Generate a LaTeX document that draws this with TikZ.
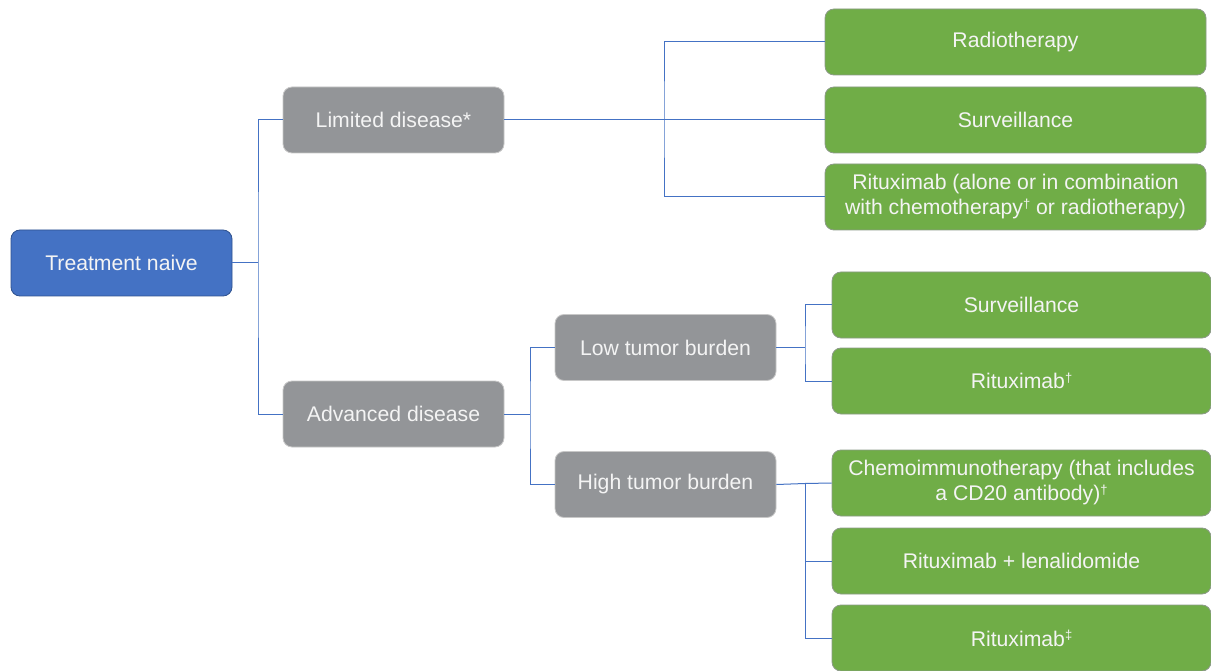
\documentclass[tikz,border=0pt]{standalone}
\usepackage{fontspec}
\setmainfont{Liberation Sans}
\definecolor{bluefill}{HTML}{4472C4}
\definecolor{blueedge}{HTML}{2F528F}
\definecolor{grayfill}{HTML}{939598}
\definecolor{grayedge}{HTML}{C8C8C8}
\definecolor{greenfill}{HTML}{70AD47}
\definecolor{greenedge}{HTML}{8C9A88}
\definecolor{linkcol}{HTML}{4472C4}
\definecolor{txt}{HTML}{F4F4F4}
\newcommand{\supmark}[1]{\raisebox{0.32em}{\fontsize{13}{13}\selectfont #1}}
\begin{document}
\begin{tikzpicture}[x=1pt,y=-1pt,
  box/.style={rounded corners=9pt, inner sep=0pt, align=center, text=txt,
    font=\fontsize{21.2}{25}\selectfont, line width=0.8pt},
  bluebox/.style={box, fill=bluefill, draw=blueedge, minimum width=221pt, minimum height=66pt},
  graybox/.style={box, fill=grayfill, draw=grayedge, minimum width=221pt, minimum height=66pt},
  greenbox/.style={box, fill=greenfill, draw=greenedge, minimum width=381pt, minimum height=66pt},
  greenboxb/.style={box, fill=greenfill, draw=greenedge, minimum width=379pt, minimum height=66pt},
  link/.style={draw=linkcol, line width=1pt}
]
\useasboundingbox (0,0) rectangle (1211,671);
\fill[white] (0,0) rectangle (1211,671);

\node[bluebox] (tn) at (121.5,263) {Treatment naive};
\node[graybox] (ld) at (393.5,120) {Limited disease*};
\node[graybox] (ad) at (393.5,414) {Advanced disease};
\node[graybox] (low) at (665.5,347.5) {Low tumor burden};
\node[graybox] (high) at (665.5,484.5) {High tumor burden};

\node[greenbox] (rt) at (1015.5,42) {Radiotherapy};
\node[greenbox] (sv1) at (1015.5,120) {Surveillance};
\node[greenbox] (rx1) at (1015.5,197) {Rituximab (alone or in combination\\with chemotherapy\supmark{†} or radiotherapy)};

\node[greenboxb] (sv2) at (1021.5,305) {Surveillance};
\node[greenboxb] (rx2) at (1021.5,381) {Rituximab\supmark{†}};
\node[greenboxb] (ci) at (1021.5,483) {Chemoimmunotherapy (that includes\\a CD20 antibody)\supmark{†}};
\node[greenboxb] (rl) at (1021.5,561) {Rituximab + lenalidomide};
\node[greenboxb] (rx3) at (1021.5,638) {Rituximab\supmark{‡}};

% connectors
\coordinate (j1) at (258,263);
\draw[link] (tn.east) -- (j1);
\draw[link] (ld.west) -| (j1) |- (ad.west);

\coordinate (j2) at (664,120);
\draw[link] (ld.east) -- (j2);
\draw[link] (rt.west) -| (j2) |- (rx1.west);
\draw[link] (j2) -- (sv1.west);

\coordinate (j3) at (530,414);
\draw[link] (ad.east) -- (j3);
\draw[link] (low.west) -| (j3) |- (high.west);

\coordinate (j4) at (805,347.5);
\draw[link] (low.east) -- (j4);
\draw[link] (sv2.west) -| (j4) |- (rx2.west);

\coordinate (j5) at (805,483.5);
\draw[link] (high.east) -- (j5) -- (ci.west);
\draw[link] (j5) |- (rx3.west);
\draw[link] (rl.west) -| (j5);
\end{tikzpicture}
\end{document}
